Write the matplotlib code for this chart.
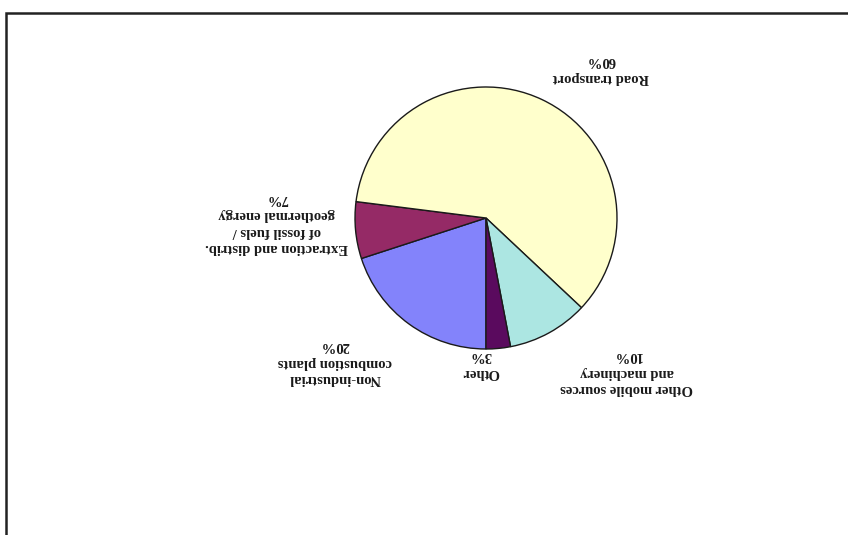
import matplotlib
matplotlib.use("Agg")
import matplotlib.pyplot as plt
from matplotlib.patches import Rectangle

# Emission shares by source (percent)
categories = [
    "Non-industrial\ncombustion plants",
    "Extraction and distrib.\nof fossil fuels /\ngeothermal energy",
    "Road transport",
    "Other mobile sources\nand machinery",
    "Other",
]
shares = [20, 7, 60, 10, 3]
colors = ["#8383fb", "#952a66", "#ffffcc", "#ace6e2", "#5a0a5e"]

W, H = 848, 535
fig = plt.figure(figsize=(W / 100, H / 100), dpi=100)
ax = fig.add_axes([0, 0, 1, 1])

# chart area border (open at right and bottom)
fig.patches.append(Rectangle((6 / W, -0.1), 1.2, (H - 13) / H + 0.1,
                             transform=fig.transFigure, fill=False,
                             edgecolor="#222222", linewidth=1.8))

cx, cy, r = 486, H - 218, 131
ax.pie(shares, colors=colors, startangle=-90, counterclock=False,
       center=(cx, cy), radius=r, frame=True,
       wedgeprops=dict(edgecolor="#1a1a1a", linewidth=1.0))
ax.set_xlim(0, W)
ax.set_ylim(0, H)
ax.set_aspect("auto")
ax.set_axis_off()

# label anchor positions (pixels from top-left)
label_pos = [(335, 362), (277, 223), (601, 69), (627, 372), (481, 364)]
for name, v, (x, y) in zip(categories, shares, label_pos):
    ax.text(x, H - y, f"{name}\n{v}%", rotation=180, rotation_mode="anchor",
            ha="center", va="center", multialignment="center",
            fontsize=10.5, fontweight="bold", family="Liberation Serif",
            color="#1a1a1a", linespacing=1.35)

fig.savefig("out.png", dpi=100)
